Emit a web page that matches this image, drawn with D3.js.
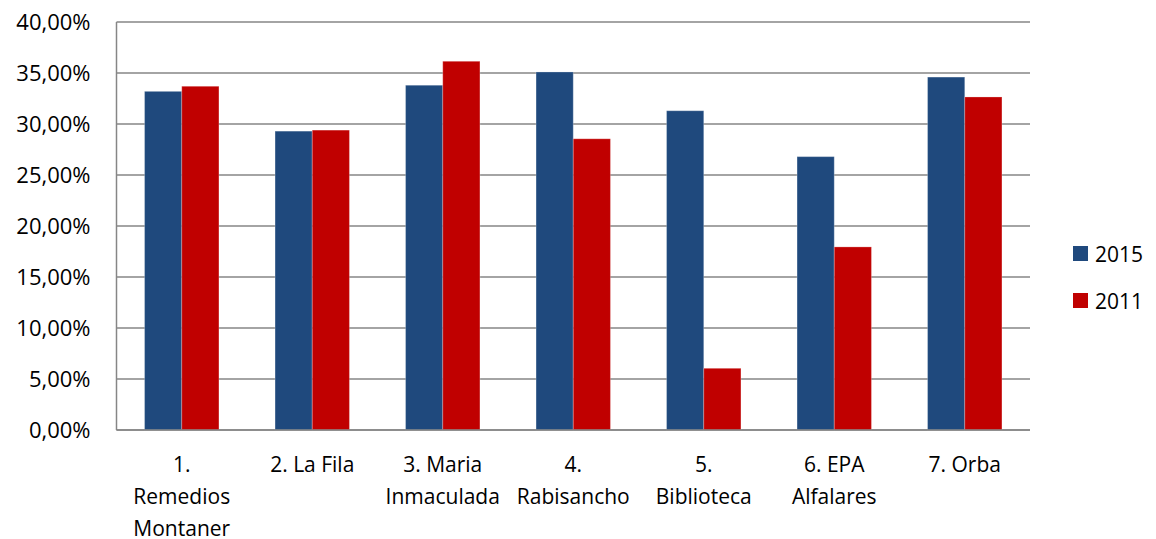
<!DOCTYPE html>
<html>
<head>
<meta charset="utf-8">
<script src="https://cdn.jsdelivr.net/npm/d3@7"></script>
<style>
  body { margin: 0; background: #fff; }
  text { font-family: "Open Sans", sans-serif; fill: #000; }
</style>
</head>
<body>
<div id="chart"></div>
<script>
// Data ---------------------------------------------
var categories = [
    ["1.", "Remedios", "Montaner"],
    ["2. La Fila"],
    ["3. Maria", "Inmaculada"],
    ["4.", "Rabisancho"],
    ["5.", "Biblioteca"],
    ["6. EPA", "Alfalares"],
    ["7. Orba"]
];
var seriesNames = ["2015", "2011"];
var values2015 = [33.2, 29.3, 33.8, 35.1, 31.3, 26.8, 34.6];
var values2011 = [33.7, 29.4, 36.15, 28.55, 6.05, 17.95, 32.65];
var yTicks = [0, 5, 10, 15, 20, 25, 30, 35, 40];
var colors = ["#1F497D", "#C00000"];

// Layout -------------------------------------------
var width = 1156, height = 539;
var margin = {top: 22, right: 126, bottom: 109, left: 116.5};
var plotW = 1030 - margin.left, plotH = 430 - margin.top;
var fontSize = "21px";

var svg = d3.select("#chart")
    .append("svg")
        .attr("width", width)
        .attr("height", height);

var g = svg.append("g")
    .attr("transform", `translate(${margin.left},${margin.top})`);

var x = d3.scaleBand()
    .domain(d3.range(categories.length))
    .range([0, plotW])
    .paddingInner(0.43)
    .paddingOuter(0.215);

var x1 = d3.scaleBand()
    .domain(seriesNames)
    .range([0, x.bandwidth()]);

var y = d3.scaleLinear()
    .domain([0, 40])
    .range([plotH, 0]);

// gridlines
g.selectAll("line.grid")
    .data(yTicks)
    .enter()
    .append("line")
        .attr("class", "grid")
        .attr("x1", 0)
        .attr("x2", plotW)
        .attr("y1", d => y(d))
        .attr("y2", d => y(d))
        .attr("stroke", "#868686")
        .attr("stroke-width", 1.5);

// y axis labels
var fmt = d => d3.format(".2f")(d).replace(".", ",") + "%";
var yAxis = d3.axisLeft(y).tickValues(yTicks).tickSize(0).tickPadding(26).tickFormat(fmt);
g.append("g")
    .call(yAxis)
    .call(s => s.select(".domain").remove())
    .selectAll("text")
        .attr("font-size", "22px")
        .attr("font-family", "'Open Sans', sans-serif")
        .attr("fill", "#000");

// bars
var series = [values2015, values2011];
var groups = g.selectAll("g.cat")
    .data(categories.map((c, i) => i))
    .enter()
    .append("g")
        .attr("class", "cat")
        .attr("transform", i => `translate(${x(i)},0)`);

groups.selectAll("rect")
    .data(i => seriesNames.map((s, k) => ({s: s, k: k, v: series[k][i]})))
    .enter()
    .append("rect")
        .attr("x", d => x1(d.s))
        .attr("width", x1.bandwidth())
        .attr("y", d => y(d.v))
        .attr("height", d => plotH - y(d.v))
        .attr("fill", d => colors[d.k])
        .attr("stroke", "#fff")
        .attr("stroke-opacity", 0.25)
        .attr("stroke-width", 1);

// axis lines
g.append("line")
    .attr("x1", 0).attr("x2", 0)
    .attr("y1", 0).attr("y2", plotH)
    .attr("stroke", "#868686").attr("stroke-width", 1.5);
g.append("line")
    .attr("x1", 0).attr("x2", plotW)
    .attr("y1", plotH).attr("y2", plotH)
    .attr("stroke", "#868686").attr("stroke-width", 1.5);

// category labels
var labels = g.selectAll("text.cat")
    .data(categories)
    .enter()
    .append("text")
        .attr("class", "cat")
        .attr("text-anchor", "middle")
        .attr("font-size", fontSize)
        .attr("transform", (d, i) => `translate(${x(i) + x.bandwidth() / 2},${plotH + 42})`);
labels.selectAll("tspan")
    .data(d => d)
    .enter()
    .append("tspan")
        .attr("x", 0)
        .attr("y", (d, j) => j * 32)
        .text(d => d);

// legend
var legend = svg.append("g")
    .attr("transform", "translate(1073,246)");
var li = legend.selectAll("g")
    .data(seriesNames)
    .enter()
    .append("g")
        .attr("transform", (d, i) => `translate(0,${i * 47})`);
li.append("rect")
    .attr("width", 15)
    .attr("height", 15)
    .attr("fill", (d, i) => colors[i]);
li.append("text")
    .attr("x", 22)
    .attr("y", 15.5)
    .attr("font-size", fontSize)
    .text(d => d);
</script>
</body>
</html>
